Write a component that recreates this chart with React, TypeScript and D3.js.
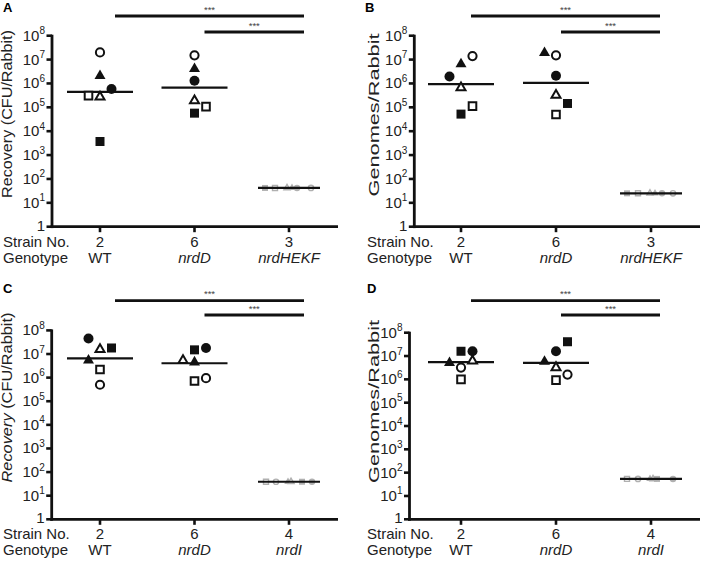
import React from 'react';
import * as d3 from 'd3';

// ---------- DATA ----------
// symbol order used by every value array below
const symbols = ['circleOpen', 'triangleFilled', 'circleFilled', 'squareOpen', 'triangleOpen', 'squareFilled'];

const strainsAB = ['2', '6', '3'];
const genotypesAB = ['WT', 'nrdD', 'nrdHEKF'];
const strainsCD = ['2', '6', '4'];
const genotypesCD = ['WT', 'nrdD', 'nrdI'];
const yTickExponents = [0, 1, 2, 3, 4, 5, 6, 7, 8];

// Panel A: Recovery (CFU/Rabbit)
const panelA_WT = [2.0e7, 2.1e6, 5.9e5, 3.1e5, 2.7e5, 3.7e3];
const panelA_nrdD = [1.5e7, 4.1e6, 1.3e6, 1.07e5, 1.9e5, 5.7e4];
const panelA_nrdHEKF = [42, 42, 42, 42, 42, 42];
// Panel B: Genomes/Rabbit
const panelB_WT = [1.4e7, 6.5e6, 1.95e6, 1.12e5, 6.6e5, 5.2e4];
const panelB_nrdD = [1.5e7, 1.9e7, 2.1e6, 5.0e4, 3.2e5, 1.45e5];
const panelB_nrdHEKF = [25, 25, 25, 25, 25, 25];
// Panel C: Recovery (CFU/Rabbit)
const panelC_WT = [5.0e5, 5.4e6, 4.5e7, 2.2e6, 1.55e7, 1.8e7];
const panelC_nrdD = [9.5e5, 4.5e6, 1.8e7, 7.2e5, 5.4e6, 1.5e7];
const panelC_nrdI = [39, 39, 39, 39, 39, 39];
// Panel D: Genomes/Rabbit
const panelD_WT = [3.2e6, 5.1e6, 1.6e7, 1.0e6, 6.2e6, 1.6e7];
const panelD_nrdD = [1.6e6, 5.8e6, 1.6e7, 9.3e5, 3.2e6, 4.1e7];
const panelD_nrdI = [54, 54, 54, 54, 54, 54];

// ---------- LAYOUT (scatter dodge, not data) ----------
const SLOT = 11.5;
const dodgeA = [[0, 0, 1, -1, 0, 0], [0, 0, 0, 1, 0, 0]];
const dodgeB = [[1, 0, -1, 1, 0, 0], [0, -1, 0, 0, 0, 1]];
const dodgeC = [[0, -1, -1, 0, 0, 1], [1, 0, 1, 0, -1, 0]];
const dodgeD = [[0, -1, 1, 0, 1, 0], [1, -1, 0, 0, 0, 1]];
const grayA = [22, 3, 8, -14, -2, -24];
const grayB = [22, 4, 11, -13, -1, -24];
const grayC = [-13, -1, 23, -23, 2, 13];
const grayD = [-13, -1, 22, -24, 2, 6];

const FONT = '"Liberation Sans", Arial, Helvetica, sans-serif';
const GRAY = '#b0b0b0';

type Panel = {
  letter: string; letterX: number; letterY: number;
  axisX: number; top: number; bottom: number; xEnd: number;
  c0: number; c2: number;
  strains: string[]; genotypes: string[];
  groups: number[][]; dodge: number[][]; gray: number[];
  yLabel: string; yLabelItalicFirst: boolean; yLabelX: number; yLabelY: number; yLabelLen: number; yLabelSize: number;
  rowLabelX: number;
  sigY: number[]; sigOff: number[];
};

const panels: Panel[] = [
  {
    letter: 'A', letterX: 3, letterY: 12, axisX: 52, top: 35.7, bottom: 226.7, xEnd: 338, c0: 100, c2: 289,
    strains: strainsAB, genotypes: genotypesAB, groups: [panelA_WT, panelA_nrdD, panelA_nrdHEKF], dodge: dodgeA, gray: grayA,
    yLabel: 'Recovery (CFU/Rabbit)', yLabelItalicFirst: false, yLabelX: 12, yLabelY: 114, yLabelLen: 168, yLabelSize: 14,
    rowLabelX: 3, sigY: [16, 32], sigOff: [15, 15, 10],
  },
  {
    letter: 'B', letterX: 365, letterY: 12, axisX: 414.3, top: 35.7, bottom: 226.7, xEnd: 700, c0: 461, c2: 651,
    strains: strainsAB, genotypes: genotypesAB, groups: [panelB_WT, panelB_nrdD, panelB_nrdHEKF], dodge: dodgeB, gray: grayB,
    yLabel: 'Genomes/Rabbit', yLabelItalicFirst: false, yLabelX: 379, yLabelY: 115, yLabelLen: 163, yLabelSize: 15,
    rowLabelX: 367, sigY: [16, 32], sigOff: [10, 9, 5],
  },
  {
    letter: 'C', letterX: 3, letterY: 292.5, axisX: 51.7, top: 330.4, bottom: 519.3, xEnd: 338, c0: 100, c2: 289,
    strains: strainsCD, genotypes: genotypesCD, groups: [panelC_WT, panelC_nrdD, panelC_nrdI], dodge: dodgeC, gray: grayC,
    yLabel: 'Recovery (CFU/Rabbit)', yLabelItalicFirst: true, yLabelX: 12, yLabelY: 397.5, yLabelLen: 170, yLabelSize: 14,
    rowLabelX: 3, sigY: [300.7, 315], sigOff: [15, 15, 10],
  },
  {
    letter: 'D', letterX: 367, letterY: 293, axisX: 409.5, top: 332.7, bottom: 519.3, xEnd: 700, c0: 461, c2: 651,
    strains: strainsCD, genotypes: genotypesCD, groups: [panelD_WT, panelD_nrdD, panelD_nrdI], dodge: dodgeD, gray: grayD,
    yLabel: 'Genomes/Rabbit', yLabelItalicFirst: false, yLabelX: 379, yLabelY: 401.5, yLabelLen: 163, yLabelSize: 15,
    rowLabelX: 367, sigY: [300.7, 315], sigOff: [10, 9, 5],
  },
];

function symbolPath(sym: string, small: boolean): { d: string; filled: boolean } {
  const filled = sym.endsWith('Filled');
  let type: any, size: number;
  if (sym.startsWith('circle')) {
    const dia = small ? (filled ? 6.5 : 5.3) : (filled ? 10 : 8.2);
    type = d3.symbolCircle; size = Math.PI * (dia / 2) ** 2;
  } else if (sym.startsWith('square')) {
    const side = small ? (filled ? 6 : 5) : (filled ? 9 : 7.6);
    type = d3.symbolSquare; size = side * side;
  } else {
    const side = small ? (filled ? 7.5 : 6.2) : (filled ? 11 : 9);
    type = d3.symbolTriangle; size = (Math.sqrt(3) / 4) * side * side;
  }
  return { d: d3.symbol().type(type).size(size)() as string, filled };
}

function PanelView({ p }: { p: Panel }) {
  const y = d3.scaleLog().domain([1, 1e8]).range([p.bottom, p.top]);
  const x = d3.scalePoint<number>().domain([0, 1, 2]).range([p.c0, p.c2]);
  const cx = (i: number) => x(i) as number;

  const geoMean = (vals: number[]) => Math.pow(10, d3.mean(vals, v => Math.log10(v)) as number);

  const tickLen = 5.5;
  return (
    <g>
      <text x={p.letterX} y={p.letterY} fontFamily={FONT} fontWeight="bold" fontSize={13}>{p.letter}</text>

      {/* significance bars */}
      {[[0, 2, p.sigY[0], p.sigOff[0], p.sigOff[1]], [1, 2, p.sigY[1], p.sigOff[2], p.sigOff[1]]].map(([a, b, yy, o1, o2], i) => {
        const x1 = cx(a) + o1, x2 = cx(b) + o2;
        return (
          <g key={'sig' + i}>
            <line x1={x1} x2={x2} y1={yy} y2={yy} stroke="#111" strokeWidth={2.8} />
            <text x={(x1 + x2) / 2} y={yy - 3.5} textAnchor="middle" fontFamily={FONT} fontSize={9.5} fill="#444">***</text>
          </g>
        );
      })}

      {/* y axis */}
      <line x1={p.axisX} x2={p.axisX} y1={p.top - 1} y2={p.bottom + 1.4} stroke="#111" strokeWidth={2.8} />
      {yTickExponents.map(e => {
        const yy = y(Math.pow(10, e));
        return (
          <g key={'yt' + e}>
            <line x1={p.axisX - tickLen} x2={p.axisX} y1={yy} y2={yy} stroke="#111" strokeWidth={2.6} />
            <text x={p.axisX - 7} y={yy + (e === 0 ? 4 : 5)} textAnchor="end" fontFamily={FONT} fontSize={15} fill="#222">
              {e === 0 ? '1' : <>10<tspan fontSize={10} dy={-6.5}>{e}</tspan></>}
            </text>
          </g>
        );
      })}
      <text transform={`translate(${p.yLabelX},${p.yLabelY}) rotate(-90)`} textAnchor="middle" fontFamily={FONT}
        fontSize={p.yLabelSize} fill="#222" textLength={p.yLabelLen} lengthAdjust="spacingAndGlyphs">
        {p.yLabelItalicFirst ? (<><tspan fontStyle="italic">Recovery</tspan>{' (CFU/Rabbit)'}</>) : p.yLabel}
      </text>

      {/* x axis */}
      <line x1={p.axisX - 1.4} x2={p.xEnd} y1={p.bottom} y2={p.bottom} stroke="#111" strokeWidth={2.8} />
      {[0, 1, 2].map(i => (
        <line key={'xt' + i} x1={cx(i)} x2={cx(i)} y1={p.bottom} y2={p.bottom + tickLen} stroke="#111" strokeWidth={2.6} />
      ))}
      <text x={p.rowLabelX} y={p.bottom + 20} fontFamily={FONT} fontSize={15} fill="#222">Strain No.</text>
      <text x={p.rowLabelX} y={p.bottom + 36} fontFamily={FONT} fontSize={15} fill="#222">Genotype</text>
      {p.strains.map((s, i) => (
        <text key={'s' + i} x={cx(i)} y={p.bottom + 20} textAnchor="middle" fontFamily={FONT} fontSize={15} fill="#222">{s}</text>
      ))}
      {p.genotypes.map((g, i) => (
        <text key={'g' + i} x={cx(i)} y={p.bottom + 36} textAnchor="middle" fontFamily={FONT} fontSize={15} fill="#222"
          fontStyle={g === 'WT' ? 'normal' : 'italic'}>{g}</text>
      ))}

      {/* groups */}
      {p.groups.map((vals, gi) => {
        const isCtrl = gi === 2;
        const gm = geoMean(vals);
        const halfW = isCtrl ? 31 : 33;
        const meanLine = <line x1={cx(gi) - halfW} x2={cx(gi) + halfW} y1={y(gm)} y2={y(gm)} stroke="#111" strokeWidth={2.2} />;
        const marks = vals.map((v, k) => {
          const sym = symbols[k];
          const { d, filled } = symbolPath(sym, isCtrl);
          const px = isCtrl ? cx(gi) + p.gray[k] : cx(gi) + p.dodge[gi][k] * SLOT;
          const color = isCtrl ? GRAY : '#111';
          return (
            <path key={'m' + k} d={d} transform={`translate(${px},${y(v)})`}
              fill={filled ? color : '#fff'} stroke={filled ? 'none' : color} strokeWidth={isCtrl ? 1.4 : 2} />
          );
        });
        return (
          <g key={'grp' + gi}>
            {!isCtrl && meanLine}
            {marks}
            {isCtrl && meanLine}
          </g>
        );
      })}
    </g>
  );
}

export default function App() {
  return (
    <svg width={701} height={561} viewBox="0 0 701 561" style={{ position: 'absolute', left: 0, top: 0, background: '#fff' }}>
      <rect width={701} height={561} fill="#fff" />
      {panels.map(p => <PanelView key={p.letter} p={p} />)}
    </svg>
  );
}
